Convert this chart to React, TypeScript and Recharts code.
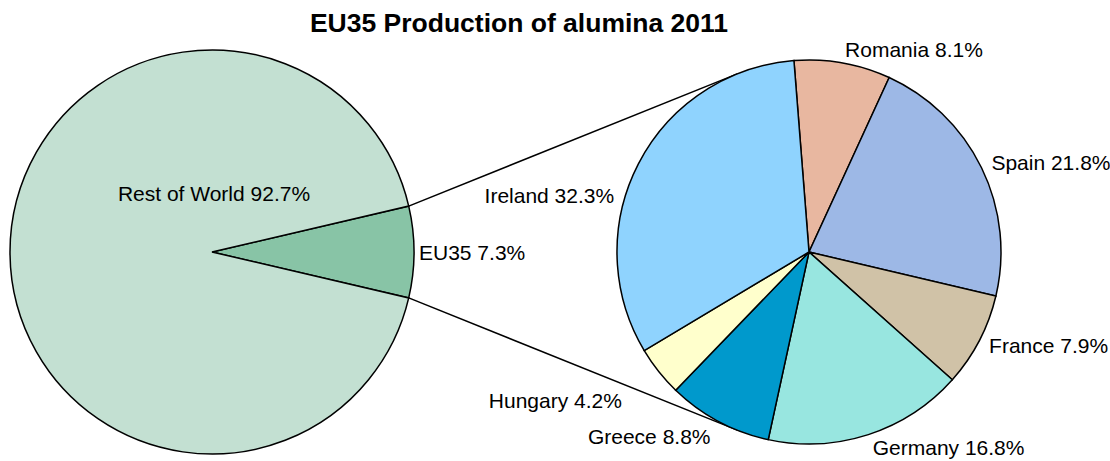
import React from 'react';
import { PieChart, Pie, Cell, Customized } from 'recharts';

// world split
const worldNames = ['EU35', 'Rest of World'];
const worldShares = [7.3, 92.7];

// EU35 breakdown, clockwise from the top
const euNames = ['Romania', 'Spain', 'France', 'Germany', 'Greece', 'Hungary', 'Ireland'];
const euShares = [8.1, 21.8, 7.9, 16.8, 8.8, 4.2, 32.3];

const worldColors = ['#88C4A6', '#C3E0D2'];
const euColors = ['#E8B7A0', '#9DB8E6', '#D0C2A7', '#98E6E0', '#0099CC', '#FFFFCC', '#8FD3FE'];

const worldData = worldNames.map((name, i) => ({ name, share: worldShares[i] }));
const euData = euNames.map((name, i) => ({ name, share: euShares[i] }));

const FONT = '"Liberation Sans", Arial, sans-serif';
const LABEL_SIZE = 21;
const RADIAN = Math.PI / 180;
const LEFT = { cx: 212, cy: 252, r: 202 };
const RIGHT = { cx: 809, cy: 252, r: 192 };
const euHalf = (worldShares[0] / 100) * 180;
const euStart = 90 + 4.5;

// tangent lines from the EU35 slice edges to the breakdown pie
const connectorLines = [-1, 1].map((side) => {
  const px = LEFT.cx + LEFT.r * Math.cos(euHalf * RADIAN);
  const py = LEFT.cy + side * LEFT.r * Math.sin(euHalf * RADIAN);
  const dx = RIGHT.cx - px;
  const dy = RIGHT.cy - py;
  const d = Math.sqrt(dx * dx + dy * dy);
  const theta = Math.atan2(dy, dx);
  const alpha = Math.asin(RIGHT.r / d);
  const len = Math.sqrt(d * d - RIGHT.r * RIGHT.r);
  const a = theta + side * alpha;
  return { x1: px, y1: py, x2: px + len * Math.cos(a), y2: py + len * Math.sin(a) };
});

let ctx: CanvasRenderingContext2D | null = null;
const textWidth = (s: string) => {
  if (!ctx) ctx = document.createElement('canvas').getContext('2d');
  if (!ctx) return s.length * LABEL_SIZE * 0.55;
  ctx.font = `${LABEL_SIZE}px "Liberation Sans", Arial`;
  return ctx.measureText(s).width;
};

type Box = { x0: number; x1: number; y0: number; y1: number };

const lineHits = (l: { x1: number; y1: number; x2: number; y2: number }, b: Box, m: number) => {
  for (let t = 0; t <= 1; t += 0.005) {
    const x = l.x1 + (l.x2 - l.x1) * t;
    const y = l.y1 + (l.y2 - l.y1) * t;
    if (x > b.x0 - m && x < b.x1 + m && y > b.y0 - m && y < b.y1 + m) return true;
  }
  return false;
};

const clearOfCircle = (b: Box, cx: number, cy: number, r: number) => {
  const nx = Math.min(Math.max(cx, b.x0), b.x1);
  const ny = Math.min(Math.max(cy, b.y0), b.y1);
  return Math.hypot(nx - cx, ny - cy) >= r;
};

// outside label at the slice's middle, nudged away from the connector lines
const placeLabel = (cx: number, cy: number, R: number, mid: number, w: number, h: number) => {
  let best = { cost: Infinity, x: cx + (R + 11) * Math.cos(mid * RADIAN), y: cy - (R + 11) * Math.sin(mid * RADIAN), right: Math.cos(mid * RADIAN) >= 0 };
  for (let extra = 0; extra <= 80; extra++) {
    for (let d = -30; d <= 30; d++) {
      const cost = 3 * Math.abs(d) + extra;
      if (cost >= best.cost) continue;
      const a = (mid + d) * RADIAN;
      const r = R + 11 + extra;
      const x = cx + r * Math.cos(a);
      const y = cy - r * Math.sin(a);
      const right = Math.cos(a) >= 0;
      const box = { x0: right ? x : x - w, x1: right ? x + w : x, y0: y - h / 2, y1: y + h / 2 };
      if (!clearOfCircle(box, cx, cy, R + 4)) continue;
      if (connectorLines.some((l) => lineHits(l, box, 5))) continue;
      best = { cost, x, y, right };
    }
  }
  return best;
};

const renderWorldLabel = (props: any) => {
  const { cx, cy, outerRadius, payload } = props;
  const text = `${payload.name} ${payload.share}%`;
  if (payload.share > 50) {
    return (
      <text x={cx + 2} y={cy - outerRadius * 0.29} textAnchor="middle" dominantBaseline="central"
        fontFamily={FONT} fontSize={LABEL_SIZE} fill="#000">{text}</text>
    );
  }
  return (
    <text x={cx + outerRadius + 5} y={cy} textAnchor="start" dominantBaseline="central"
      fontFamily={FONT} fontSize={LABEL_SIZE} fill="#000">{text}</text>
  );
};

const renderEuLabel = (props: any) => {
  const { cx, cy, midAngle, outerRadius, payload } = props;
  const text = `${payload.name} ${payload.share}%`;
  const p = placeLabel(cx, cy, outerRadius, midAngle, textWidth(text), 20);
  return (
    <text x={p.x} y={p.y} textAnchor={p.right ? 'start' : 'end'} dominantBaseline="central"
      fontFamily={FONT} fontSize={LABEL_SIZE} fill="#000">{text}</text>
  );
};

const Connectors = () => (
  <g>
    {connectorLines.map((l, i) => (
      <line key={i} {...l} stroke="#000" strokeWidth={1.5} />
    ))}
  </g>
);

export default function App() {
  return (
    <div style={{ position: 'absolute', left: 0, top: 0, background: '#fff' }}>
      <PieChart width={1110} height={461} margin={{ top: 0, right: 0, bottom: 0, left: 0 }}>
        <text x={519} y={23} textAnchor="middle" dominantBaseline="central"
          fontFamily={FONT} fontSize={26.5} fontWeight="bold" fill="#000">
          EU35 Production of alumina 2011
        </text>
        <Pie
          data={worldData}
          dataKey="share"
          nameKey="name"
          cx={LEFT.cx}
          cy={LEFT.cy}
          outerRadius={LEFT.r}
          startAngle={euHalf}
          endAngle={euHalf - 360}
          stroke="#000"
          strokeWidth={1.5}
          label={renderWorldLabel}
          labelLine={false}
          isAnimationActive={false}
        >
          {worldData.map((d, i) => (
            <Cell key={d.name} fill={worldColors[i]} />
          ))}
        </Pie>
        <Pie
          data={euData}
          dataKey="share"
          nameKey="name"
          cx={RIGHT.cx}
          cy={RIGHT.cy}
          outerRadius={RIGHT.r}
          startAngle={euStart}
          endAngle={euStart - 360}
          stroke="#000"
          strokeWidth={1.5}
          label={renderEuLabel}
          labelLine={false}
          isAnimationActive={false}
        >
          {euData.map((d, i) => (
            <Cell key={d.name} fill={euColors[i]} />
          ))}
        </Pie>
        <Customized component={<Connectors />} />
      </PieChart>
    </div>
  );
}
